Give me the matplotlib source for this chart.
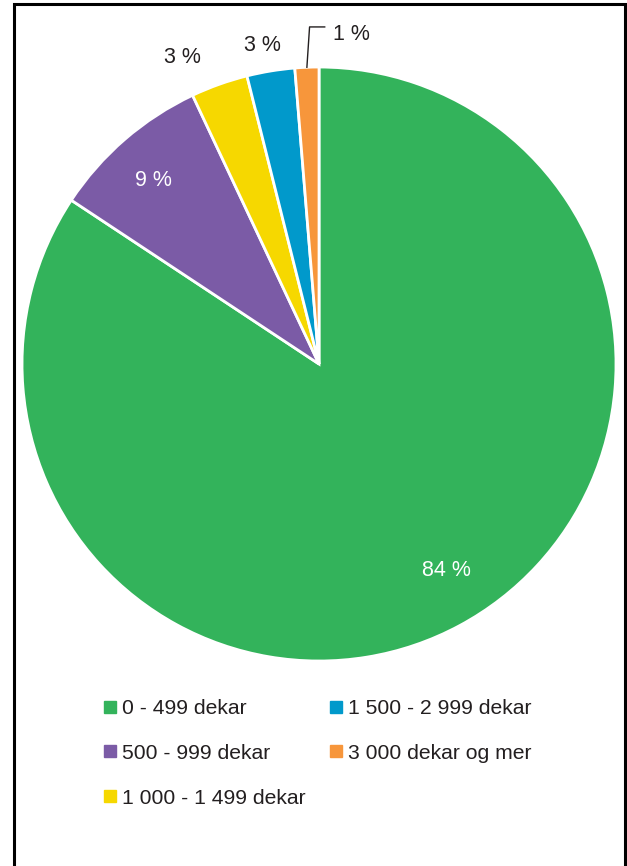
import numpy as np
import matplotlib
matplotlib.use("Agg")
import matplotlib.pyplot as plt
from matplotlib.lines import Line2D
from matplotlib.patches import Rectangle

plt.rcParams["font.family"] = ["Liberation Sans", "DejaVu Sans"]

# ── data ──────────────────────────────────────────────────────────────────────
categories = [
    "0 - 499 dekar",
    "500 - 999 dekar",
    "1 000 - 1 499 dekar",
    "1 500 - 2 999 dekar",
    "3 000 dekar og mer",
]
shares = [84.3, 8.7, 3.1, 2.6, 1.3]
colors = ["#33b35b", "#7b5ba6", "#f6d800", "#0199cb", "#f7963b"]

# label placement per slice: radial factor, angle nudge (deg), text colour
label_r = [0.81, 0.84, 1.14, 1.10, None]
label_da = [3.8, 0.8, 4.2, 0.7, 0.0]
label_c = ["white", "white", "#231f20", "#231f20", "#231f20"]
TXT_DY = -0.01   # glyphs sit a touch above the centre line otherwise

fig = plt.figure(figsize=(6.27, 8.66), dpi=100)
ax = fig.add_axes([0.0351, 0.2367, 0.9474, 0.6859])

wedges, _ = ax.pie(shares, colors=colors, startangle=90, counterclock=False,
                   radius=1.0, wedgeprops=dict(edgecolor="white", linewidth=2))
ax.set_xlim(-1, 1)
ax.set_ylim(-1, 1)
ax.set_aspect("equal")
ax.axis("off")

for w, val, r, da, c in zip(wedges, shares, label_r, label_da, label_c):
    mid = np.deg2rad((w.theta1 + w.theta2) / 2 + da)
    txt = f"{val:.0f} %"
    if r is None:
        # small slice: leader line up and to the right
        x0, y0 = np.cos(mid), np.sin(mid)
        ax.plot([x0, x0 + 0.009, x0 + 0.06], [y0, 1.135, 1.135],
                color="#231f20", lw=1, clip_on=False)
        ax.text(x0 + 0.150, 1.118 + TXT_DY, txt, ha="center", va="center",
                fontsize=15.5, color=c)
    else:
        ax.text(r * np.cos(mid), r * np.sin(mid) + TXT_DY, txt, ha="center",
                va="center", fontsize=15.5, color=c)

handles = [Line2D([], [], marker="s", ls="none", markersize=8,
                  markerfacecolor=col, markeredgecolor=col) for col in colors]
fig.legend(handles, categories, loc="upper left",
           bbox_to_anchor=(0.1646, 0.1927), ncol=2, frameon=False,
           fontsize=15.2, labelcolor="#231f20", handlelength=0.6,
           handletextpad=0.29, labelspacing=1.22, columnspacing=1.12,
           borderaxespad=0, borderpad=0)

# outer frame
fig.patches.append(Rectangle((13.5 / 627, -0.05), 611 / 627, 1.05 - 4 / 866,
                             transform=fig.transFigure, fill=False,
                             edgecolor="black", linewidth=2.2))

fig.savefig("out.png", dpi=100)
